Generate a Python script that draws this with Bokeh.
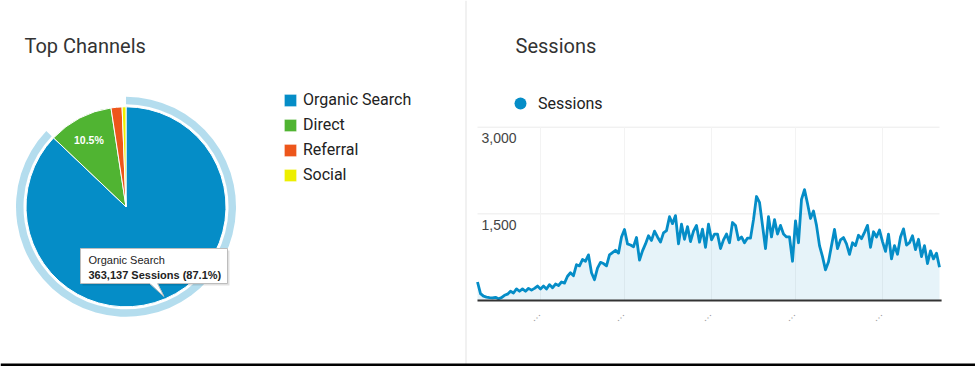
import math
from bokeh.plotting import figure
from bokeh.models import (ColumnDataSource, Range1d, Legend, LegendItem, Span, Label)
from bokeh.core.properties import value
from bokeh.embed import file_html
from bokeh.resources import INLINE

# ---------------- data ----------------
channels = ["Organic Search", "Direct", "Referral", "Social"]
channel_sessions = [363137, 43776, 7400, 2600]
channel_colors = ["#058DC7", "#50B432", "#ED561B", "#EDEF00"]

sessions = [
    320, 120, 75, 60, 50, 45, 55, 30, 50, 90,
    110, 160, 130, 200, 160, 200, 160, 210, 180, 210,
    250, 200, 250, 200, 275, 220, 285, 260, 320, 300,
    420, 480, 430, 620, 600, 710, 680, 790, 480, 360,
    560, 660, 640, 600, 790, 830, 870, 820, 1100, 1230,
    980, 960, 930, 1090, 700, 860, 980, 1120, 1040, 1200,
    1100, 1010, 1170, 1210, 1450, 1330, 1470, 980, 1320, 1060,
    1280, 1020, 1200, 1300, 1010, 1235, 920, 1320, 1050, 1150,
    1150, 900, 1050, 1150, 1000, 1350, 1300, 1050, 1100, 1000,
    1080, 1080, 1400, 1800, 1700, 1300, 900, 1450, 1100, 1400,
    1150, 1300, 1150, 1100, 1100, 680, 1380, 1000, 1750, 1920,
    1680, 1420, 1550, 1300, 950, 760, 530, 670, 950, 1230,
    900, 1050, 1090, 980, 800, 1000, 950, 1130, 1070, 1180,
    1300, 920, 1190, 1100, 1220, 1020, 850, 1150, 720, 950,
    800, 1100, 1240, 960, 1000, 1120, 880, 1060, 760, 950,
    640, 860, 720, 820, 575,
]
y_ticks = [1500, 3000]
y_tick_labels = ["1,500", "3,000"]
x_ticks = [21, 49, 78, 106, 135]
x_tick_labels = ["\u2026"] * len(x_ticks)

# ---------------- layout constants (pixels) ----------------
W, H = 975, 366
TITLE_FONT = "Roboto"
CHART_FONT = "Liberation Sans"

LC_LEFT, LC_RIGHT = 477, 939          # canvas x of first / last sample
LC_ZERO, LC_3000 = 300.0, 126.7       # canvas y of value 0 and 3000

p = figure(width=W, height=H, x_range=Range1d(0, W), y_range=Range1d(0, H),
           x_axis_type=None, y_axis_type=None, toolbar_location=None,
           output_backend="svg", min_border=0, outline_line_color=None)
p.background_fill_color = "white"
p.border_fill_color = "white"

# extra ranges for the line chart so its data goes through its own scales
n_pts = len(sessions)
k = (n_pts - 1) / (LC_RIGHT - LC_LEFT)                 # index units per pixel
v_per_px = 3000 / (LC_ZERO - LC_3000)                   # value units per pixel
p.extra_x_ranges = {"t": Range1d(-LC_LEFT * k, (W - LC_LEFT) * k)}
p.extra_y_ranges = {"v": Range1d(-(H - LC_ZERO) * v_per_px, LC_ZERO * v_per_px)}

# ---------------- pie (Top Channels) ----------------
n = len(channels)
total = sum(channel_sessions)
fracs = [v / total for v in channel_sessions]
cum = [0.0]
for f in fracs:
    cum.append(cum[-1] + f)
starts = [math.pi / 2 - 2 * math.pi * cum[i + 1] for i in range(n)]
ends = [math.pi / 2 - 2 * math.pi * cum[i] for i in range(n)]
src = ColumnDataSource(dict(channel=channels, start=starts, end=ends, color=channel_colors))

cx, cy, r = 125.5, H - 206.3, 100

p.annular_wedge(x=cx, y=cy, inner_radius=102.5, outer_radius=110,
                start_angle=starts[0], end_angle=ends[0],
                fill_color=channel_colors[0], fill_alpha=0.3, line_color=None)
wedges = p.wedge(x=cx, y=cy, radius=r, start_angle="start", end_angle="end",
                 fill_color="color", line_color="white", line_width=1, source=src)

mid = (starts[1] + ends[1]) / 2 + 0.03
p.text(x=[cx + 76 * math.cos(mid)], y=[cy + 76 * math.sin(mid)],
       text=[f"{fracs[1] * 100:.1f}%"], text_color="white", text_font=value(CHART_FONT),
       text_font_style="bold", text_font_size="10.5px", text_align="center",
       text_baseline="middle")

# tooltip
tl, tr_, tt, tb = 80, 227, H - 248, H - 283
p.quad(left=tl + 2, right=tr_ + 2, top=tt - 2, bottom=tb - 2,
       fill_color="black", fill_alpha=0.12, line_color=None)
p.quad(left=tl, right=tr_, top=tt, bottom=tb, fill_color="white",
       line_color="#bdbdbd", line_width=1)
p.patch(x=[149, 157, 163.5], y=[tb + 0.6, tb + 0.6, H - 296],
        fill_color="white", line_color=None)
p.multi_line(xs=[[149, 163.5], [157, 163.5]], ys=[[tb, H - 296], [tb, H - 296]],
             line_color="#bdbdbd", line_width=1)
p.add_layout(Label(x=88, y=H - 259, text=channels[0], text_font=CHART_FONT,
                   text_font_size="11px", text_color="#222222", text_baseline="middle"))
p.add_layout(Label(x=88, y=H - 274,
                   text=f"{channel_sessions[0]:,} Sessions ({fracs[0] * 100:.1f}%)",
                   text_font=CHART_FONT, text_font_size="11px", text_font_style="bold",
                   text_color="#222222", text_baseline="middle"))

p.add_layout(Label(x=24, y=H - 45, text="Top Channels", text_font=TITLE_FONT,
                   text_font_size="20px", text_color="#333333", text_baseline="middle"))

legend = Legend(items=[LegendItem(label=channels[i], renderers=[wedges], index=i) for i in range(n)],
                location=(282, H - 184), orientation="vertical",
                glyph_width=16, glyph_height=16, label_height=16, spacing=6,
                label_standoff=5, padding=0, margin=0,
                label_text_font=TITLE_FONT, label_text_font_size="16px",
                label_text_color="#222222", border_line_color=None,
                background_fill_alpha=0)
p.add_layout(legend)

# divider between the two panels
p.add_layout(Span(location=465.5, dimension="height", line_color="#e3e3e3", line_width=1))

# ---------------- line chart (Sessions) ----------------
xs = list(range(n_pts))
last = n_pts - 1
p.segment(x0=[0] * len(y_ticks), y0=y_ticks, x1=[last] * len(y_ticks), y1=y_ticks,
          line_color="#ebebeb", line_width=1, x_range_name="t", y_range_name="v")
p.segment(x0=x_ticks, y0=[0] * len(x_ticks), x1=x_ticks, y1=[y_ticks[-1]] * len(x_ticks),
          line_color="#f3f3f3", line_width=1, x_range_name="t", y_range_name="v")

p.varea(x=xs, y1=[0] * n_pts, y2=sessions, fill_color="#058DC7", fill_alpha=0.1,
        x_range_name="t", y_range_name="v")
p.line(x=xs, y=sessions, line_color="#058DC7", line_width=2.8, line_join="round",
       x_range_name="t", y_range_name="v")

p.segment(x0=[0], y0=[0], x1=[last + 0.7], y1=[0], line_color="#333333", line_width=2,
          x_range_name="t", y_range_name="v")

p.text(x=[0] * len(y_ticks), y=y_ticks, text=y_tick_labels, x_offset=4, y_offset=11,
       text_font=value(CHART_FONT), text_font_size="14px", text_color="#444444",
       text_baseline="middle", text_align="left", x_range_name="t", y_range_name="v")

p.text(x=x_ticks, y=[0] * len(x_ticks), text=x_tick_labels, x_offset=-6, y_offset=15,
       angle=math.pi / 4, text_font=value(CHART_FONT), text_font_size="11px",
       text_color="#9a9a9a", text_align="center", text_baseline="middle",
       x_range_name="t", y_range_name="v")

dot = p.scatter(x=[float("nan")], y=[float("nan")], marker="circle", size=12,
                fill_color="#058DC7", line_color=None, x_range_name="t", y_range_name="v")
lc_legend = Legend(items=[LegendItem(label="Sessions", renderers=[dot], index=0)],
                   location=(505, H - 118),
                   glyph_width=30, glyph_height=30, label_standoff=3, padding=0, margin=0,
                   label_text_font=TITLE_FONT, label_text_font_size="16px",
                   label_text_color="#222222", border_line_color=None,
                   background_fill_alpha=0)
p.add_layout(lc_legend)

p.add_layout(Label(x=515, y=H - 45, text="Sessions", text_font=TITLE_FONT,
                   text_font_size="20px", text_color="#333333", text_baseline="middle"))

p.add_layout(Span(location=1.5, dimension="width", line_color="black", line_width=3))

open("out.html", "w").write(file_html(p, INLINE))
